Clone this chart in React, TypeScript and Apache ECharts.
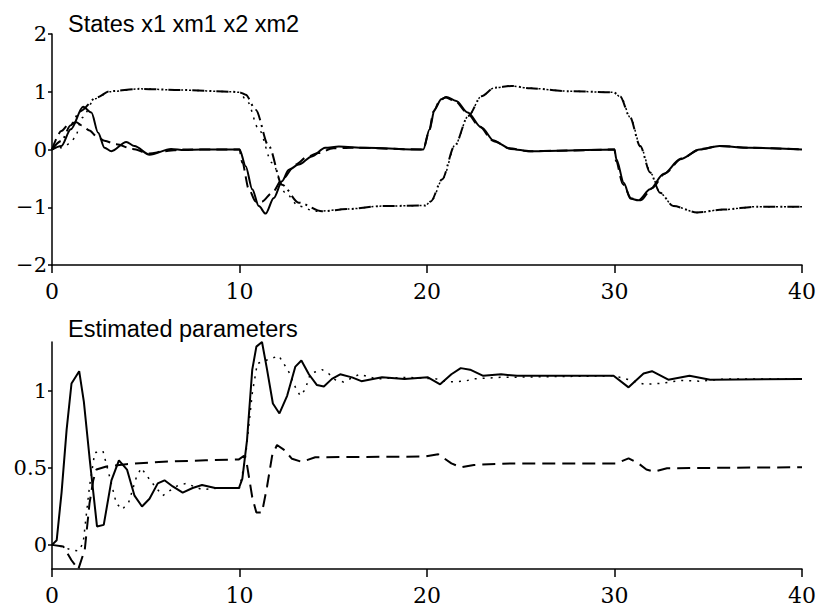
import React, { useEffect, useRef } from "react";
import * as echarts from "echarts";

// ---- time axis ----
const timeTicks = [0, 10, 20, 30, 40];

// ---- states: [t, value] ----
const x1: number[][] = [
  [0, 0], [0.5, 0.06], [1.0, 0.35], [1.66, 0.74], [2.1, 0.64], [2.46, 0.29], [2.8, 0.03],
  [3.17, -0.03], [3.96, 0.13], [4.4, 0.06], [5.2, -0.09], [6.35, 0.01], [7.05, -0.01],
  [8, 0], [10, 0], [10.33, -0.29], [10.68, -0.69], [11.03, -0.98], [11.39, -1.11],
  [11.83, -0.84], [12.27, -0.55], [12.63, -0.35], [13.16, -0.26], [13.86, -0.12],
  [14.57, 0.03], [15.3, 0.05], [16.7, 0.03], [19.8, 0], [20.14, 0.35], [20.4, 0.69],
  [20.76, 0.87], [21.03, 0.91], [21.56, 0.84], [22.17, 0.64], [22.9, 0.38], [23.6, 0.14],
  [24.47, 0.01], [25.5, -0.03], [27, -0.02], [30, 0], [30.1, -0.17], [30.5, -0.58],
  [30.84, -0.85], [31.28, -0.88], [31.9, -0.69], [32.6, -0.43], [33.5, -0.17],
  [34.55, 0], [35.6, 0.06], [37.2, 0.03], [40, 0],
];

const xm1: number[][] = [
  [0, 0], [0.5, 0.32], [0.87, 0.43], [1.3, 0.47], [1.57, 0.42], [2.0, 0.33], [2.37, 0.23],
  [2.8, 0.15], [3.43, 0.09], [4.3, 0.01], [5.2, -0.07], [6.0, -0.03], [7, 0], [10, 0],
  [10.15, -0.23], [10.5, -0.69], [10.86, -0.9], [11.2, -0.9], [11.74, -0.75],
  [12.27, -0.52], [13.0, -0.26], [13.6, -0.13], [14.2, -0.06], [15, 0.02], [16, 0.03],
  [19.8, 0], [20.1, 0.3], [20.35, 0.66], [20.7, 0.86], [21.0, 0.9], [21.5, 0.84],
  [22.1, 0.65], [22.8, 0.4], [23.5, 0.16], [24.4, 0.02], [25.4, -0.03], [27, -0.02],
  [30, 0], [30.08, -0.2], [30.45, -0.6], [30.9, -0.85], [31.4, -0.88], [32, -0.67],
  [32.7, -0.41], [33.6, -0.15], [34.6, 0.01], [35.6, 0.06], [37.2, 0.03], [40, 0],
];

const x2: number[][] = [
  [0, 0], [0.5, 0.15], [1.0, 0.42], [1.5, 0.66], [2.37, 0.9], [3.08, 1.01], [4.67, 1.05],
  [6.9, 1.03], [9.6, 1.0], [10.0, 0.99], [10.33, 0.95], [10.86, 0.69], [11.56, 0.06],
  [12.27, -0.61], [13.16, -0.92], [14.4, -1.07], [15.8, -1.03], [17.6, -0.98],
  [19.9, -0.97], [20.2, -0.9], [20.8, -0.52], [21.47, 0.06], [22.2, 0.58], [22.9, 0.92],
  [23.6, 1.07], [24.5, 1.1], [25.5, 1.06], [27.5, 1.01], [29.95, 0.99], [30.3, 0.92],
  [30.8, 0.58], [31.37, 0.06], [31.9, -0.4], [32.43, -0.75], [33.14, -0.98],
  [34.4, -1.09], [35.8, -1.04], [37.6, -0.99], [40, -0.99],
];

const xm2: number[][] = [
  [0, 0], [0.5, 0.03], [0.95, 0.1], [1.22, 0.2], [1.6, 0.55], [2.3, 0.88], [3.1, 1.0],
  [4.67, 1.05], [6.9, 1.03], [9.6, 1.0], [10.0, 0.99], [10.4, 0.84], [11.03, 0.35],
  [11.74, -0.23], [12.45, -0.75], [13.16, -0.98], [14.04, -1.07], [15.8, -1.03],
  [17.6, -0.98], [19.9, -0.97], [20.25, -0.88], [20.85, -0.5], [21.5, 0.08], [22.2, 0.58],
  [22.9, 0.92], [23.6, 1.07], [24.5, 1.1], [25.5, 1.06], [27.5, 1.01], [29.95, 0.99],
  [30.35, 0.9], [30.85, 0.55], [31.4, 0.04], [31.95, -0.42], [32.45, -0.76],
  [33.14, -0.98], [34.4, -1.09], [35.8, -1.04], [37.6, -0.99], [40, -0.99],
];

// ---- estimated parameters: [t, value] ----
const theta1: number[][] = [
  [0, 0], [0.25, 0.03], [0.51, 0.34], [0.78, 0.75], [1.04, 1.05], [1.45, 1.13],
  [1.7, 0.93], [2.0, 0.57], [2.4, 0.12], [2.76, 0.13], [3.17, 0.42], [3.57, 0.55],
  [4.0, 0.49], [4.4, 0.32], [4.8, 0.25], [5.2, 0.3], [5.64, 0.4], [6.0, 0.42],
  [6.44, 0.38], [6.97, 0.34], [7.5, 0.37], [8.0, 0.39], [8.7, 0.37], [9.97, 0.37],
  [10.15, 0.43], [10.4, 0.68], [10.68, 1.14], [10.9, 1.29], [11.2, 1.32], [11.47, 1.14],
  [11.78, 0.92], [12.13, 0.855], [12.54, 0.97], [12.98, 1.16], [13.3, 1.2], [13.7, 1.11],
  [14.13, 1.04], [14.5, 1.03], [14.93, 1.08], [15.37, 1.11], [16.0, 1.09], [16.5, 1.065],
  [17.6, 1.09], [18.8, 1.08], [20.05, 1.09], [20.7, 1.045], [21.3, 1.11], [21.8, 1.15],
  [22.3, 1.14], [23.0, 1.1], [23.95, 1.11], [24.8, 1.1], [29.95, 1.1], [30.75, 1.025],
  [31.55, 1.115], [32.0, 1.13], [32.87, 1.075], [34.0, 1.1], [35.1, 1.075], [40, 1.08],
];

const theta2: number[][] = [
  [0, 0], [0.5, -0.01], [0.95, -0.03], [1.4, -0.04], [1.66, 0.01], [2.0, 0.38],
  [2.28, 0.6], [2.72, 0.61], [3.08, 0.44], [3.43, 0.27], [3.75, 0.23], [4.1, 0.28],
  [4.5, 0.44], [4.76, 0.5], [5.3, 0.41], [5.9, 0.32], [6.6, 0.38], [7.15, 0.4],
  [8.0, 0.36], [9.0, 0.37], [10.0, 0.37], [10.3, 0.55], [10.68, 0.985], [10.95, 1.18],
  [11.4, 1.2], [12.1, 1.23], [12.36, 1.18], [12.63, 1.125], [13.0, 1.02], [13.24, 0.97],
  [13.5, 1.01], [13.78, 1.115], [14.4, 1.14], [14.75, 1.115], [15.1, 1.075],
  [15.55, 1.06], [16.4, 1.11], [17.3, 1.08], [19, 1.09], [20.5, 1.08], [21.1, 1.06],
  [22.0, 1.065], [22.5, 1.08], [23.9, 1.09], [30, 1.1], [30.6, 1.08], [31.6, 1.045],
  [32.4, 1.05], [33.6, 1.07], [34.5, 1.065], [36, 1.08], [40, 1.08],
];

const theta3: number[][] = [
  [0, 0], [0.6, -0.01], [1.04, -0.1], [1.4, -0.16], [1.75, -0.03], [2.0, 0.27],
  [2.2, 0.42], [2.37, 0.49], [2.9, 0.51], [3.96, 0.525], [5.7, 0.54], [8.2, 0.55],
  [9.97, 0.556], [10.24, 0.58], [10.4, 0.52], [10.68, 0.31], [10.9, 0.21], [11.2, 0.21],
  [11.47, 0.38], [11.74, 0.58], [12.0, 0.65], [12.36, 0.62], [12.8, 0.56], [13.33, 0.54],
  [14.04, 0.57], [19.9, 0.575], [20.6, 0.59], [21.3, 0.53], [21.8, 0.505], [22.5, 0.52],
  [24.6, 0.53], [30.1, 0.53], [30.75, 0.563], [31.28, 0.53], [31.7, 0.49], [32.1, 0.476],
  [32.8, 0.498], [34.0, 0.5], [40, 0.505],
];

const stateTicks = [-2, -1, 0, 1, 2];
const paramTicks = [0, 0.5, 1];

const SERIF = "DejaVu Serif";
const SANS = "Liberation Sans";

const fmt = (v: number) => (v < 0 ? "\u2212" + String(Math.abs(v)) : String(v));

function App() {
  const ref = useRef<HTMLDivElement>(null);

  useEffect(() => {
    if (!ref.current) return;
    const chart = echarts.init(ref.current, undefined, { renderer: "svg" });

    const axisLine = { show: true, onZero: false, lineStyle: { color: "#000", width: 1.5 } };
    const xLabel = {
      color: "#000",
      fontFamily: SERIF,
      fontSize: 22,
      lineHeight: 16,
      margin: 18,
      formatter: fmt,
    };
    const xAxisBase = {
      type: "value" as const,
      min: timeTicks[0],
      max: timeTicks[timeTicks.length - 1],
      interval: 10,
      axisLine,
      axisTick: { show: true, inside: false, length: 8, lineStyle: { color: "#000", width: 1.5 } },
      splitLine: { show: false },
    };
    const yLabel = {
      color: "#000",
      fontFamily: SERIF,
      fontSize: 21,
      margin: 5,
      formatter: fmt,
    };
    const yTick = { show: true, inside: false, length: 4, lineStyle: { color: "#000", width: 1.5 } };

    const line = (
      name: string,
      data: number[][],
      idx: number,
      type: any,
      width: number,
      smooth: number
    ) => ({
      name,
      type: "line" as const,
      data,
      xAxisIndex: idx,
      yAxisIndex: idx,
      showSymbol: false,
      symbol: "none",
      clip: false,
      smooth,
      smoothMonotone: "x" as const,
      lineStyle: { color: "#000", width, type },
    });

    chart.setOption({
      animation: false,
      backgroundColor: "#fff",
      title: [
        {
          text: "States x1 xm1 x2 xm2",
          left: 68,
          top: 12,
          padding: 0,
          textStyle: { color: "#000", fontFamily: SANS, fontSize: 23.5, fontWeight: "normal", lineHeight: 24 },
        },
        {
          text: "Estimated parameters",
          left: 68,
          top: 317,
          padding: 0,
          textStyle: { color: "#000", fontFamily: SANS, fontSize: 23.5, fontWeight: "normal", lineHeight: 24 },
        },
      ],
      grid: [
        { left: 52, top: 34, width: 754, height: 231 },
        { left: 52, top: 342, width: 754, height: 227 },
      ],
      xAxis: [
        { ...xAxisBase, gridIndex: 0, axisLabel: { ...xLabel } },
        { ...xAxisBase, gridIndex: 1, axisLabel: { ...xLabel } },
      ],
      yAxis: [
        {
          type: "value",
          gridIndex: 0,
          min: stateTicks[0],
          max: stateTicks[stateTicks.length - 1],
          interval: 1,
          axisLine,
          axisTick: yTick,
          splitLine: { show: false },
          axisLabel: { ...yLabel },
        },
        {
          type: "value",
          gridIndex: 1,
          min: -0.157,
          max: 1.32,
          axisLine,
          axisTick: { ...yTick, customValues: paramTicks },
          splitLine: { show: false },
          axisLabel: { ...yLabel, customValues: paramTicks },
        },
      ],
      series: [
        line("x1", x1, 0, "solid", 2, 0.3),
        line("xm1", xm1, 0, [11, 6], 2, 0.3),
        line("x2", x2, 0, [12, 5, 2, 5], 2, 0.3),
        line("xm2", xm2, 0, [2, 6], 1.5, 0.3),
        line("theta1", theta1, 1, "solid", 2, 0),
        line("theta2", theta2, 1, [2, 6], 1.5, 0),
        line("theta3", theta3, 1, [13, 7], 2, 0),
      ],
    });

    return () => chart.dispose();
  }, []);

  return (
    <div
      ref={ref}
      style={{ position: "fixed", left: 0, top: 0, width: 819, height: 606, background: "#fff" }}
    />
  );
}

export default App;
